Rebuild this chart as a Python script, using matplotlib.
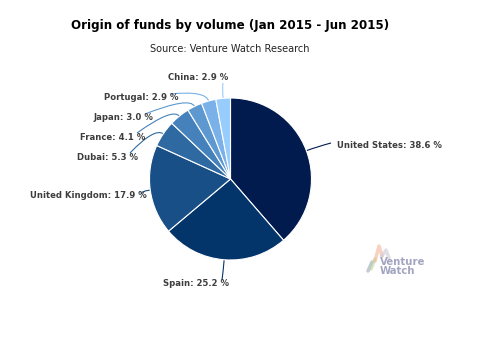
import matplotlib
matplotlib.use("Agg")
import matplotlib.pyplot as plt
import numpy as np
from matplotlib.path import Path
from matplotlib.patches import PathPatch

# Origin of funds, share of volume (%)
countries = ["United States", "Spain", "United Kingdom", "Dubai",
             "France", "Japan", "Portugal", "China"]
shares = [38.6, 25.2, 17.9, 5.3, 4.1, 3.0, 2.9, 2.9]

colors = ["#011b4f", "#03356b", "#194f87", "#2e69a2",
          "#4582bb", "#5d98d0", "#79b1e8", "#97cdfd"]

W, H = 480, 348
fig = plt.figure(figsize=(W / 100, H / 100), dpi=100)
ax = fig.add_axes([0, 0, 1, 1])
ax.set_xlim(0, W)
ax.set_ylim(H, 0)
ax.axis("off")

cx, cy, r = 230.5, 179.0, 81.0

# pie drawn in an upward y frame sharing the same pixel layout
pax = fig.add_axes([0, 0, 1, 1])
pax.set_xlim(0, W)
pax.set_ylim(0, H)
pax.axis("off")
wedges, _ = pax.pie(shares, colors=colors, startangle=90, counterclock=False,
                    center=(cx, H - cy), radius=r,
                    wedgeprops=dict(edgecolor="white", linewidth=0.8))
pax.set_aspect("auto")
pax.set_xlim(0, W)
pax.set_ylim(0, H)

# label layout: text anchor, alignment, connector end (pixel frame)
label_pos = [(337, 146, "left", (331, 143)),
             (229, 284, "right", (222, 280)),
             (147, 196, "right", (142, 194)),
             (138, 157, "right", (130, 153)),
             (145, 137, "right", (137, 133)),
             (153, 118, "right", (145, 114)),
             (179, 98, "right", (170, 94)),
             (228, 78, "right", (223, 83))]

total = sum(shares)
cum = 0.0
for name, val, col, (tx, ty, ha, (ex, ey)) in zip(countries, shares, colors, label_pos):
    mid = cum + val / 2
    cum += val
    ang = np.deg2rad(90 - 360 * mid / total)
    px, py = cx + r * np.cos(ang), cy - r * np.sin(ang)
    bx, by = cx + (r + 11) * np.cos(ang), cy - (r + 11) * np.sin(ang)
    path = Path([(px, py), (bx, by), (ex, ey)],
                [Path.MOVETO, Path.CURVE3, Path.CURVE3])
    ax.add_patch(PathPatch(path, facecolor="none", edgecolor=col, linewidth=0.8))
    ax.text(tx, ty, f"{name}: {val:.1f} %", ha=ha, va="center",
            fontsize=6.1, fontweight="bold", color="#3d3d3d")

ax.text(230, 26, "Origin of funds by volume (Jan 2015 - Jun 2015)",
        ha="center", va="center", fontsize=8.6, fontweight="bold", color="black")
ax.text(230, 49, "Source: Venture Watch Research",
        ha="center", va="center", fontsize=7.0, color="#222222")

# watermark logo
ax.plot([368, 372], [271, 262], color="#9aa4b8", lw=2.5, alpha=0.6, solid_capstyle="round")
ax.plot([371, 375], [269, 259], color="#b9d7a3", lw=2.5, alpha=0.6, solid_capstyle="round")
ax.plot([375, 379, 382], [261, 246, 256], color="#f3b596", lw=2.5, alpha=0.6, solid_capstyle="round")
ax.plot([382, 386, 389], [256, 250, 258], color="#c9c9d6", lw=2.5, alpha=0.6, solid_capstyle="round")
ax.text(380, 262, "Venture", ha="left", va="center", fontsize=7.3,
        fontweight="bold", color="#a3a6c0")
ax.text(380, 271, "Watch", ha="left", va="center", fontsize=7.3,
        fontweight="bold", color="#a3a6c0")

fig.savefig("out.png", dpi=100)
